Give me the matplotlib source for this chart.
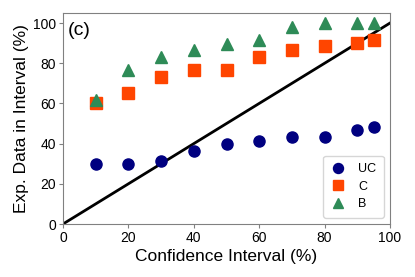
import numpy as np
import matplotlib.pyplot as plt

plt.rcParams['font.family'] = ['Liberation Sans', 'DejaVu Sans']

# Confidence interval levels (%)
ci = [10, 20, 30, 40, 50, 60, 70, 80, 90, 95]

# Exp. data falling inside the interval (%)
uc = [30, 30, 31.5, 36.5, 39.8, 41.5, 43.2, 43.2, 46.6, 48.2]
c = [60, 65, 73.2, 76.6, 76.6, 83.2, 86.8, 88.4, 90.1, 91.8]
b = [61.5, 76.8, 83.1, 86.4, 89.8, 91.4, 98, 100, 100, 100]

fig = plt.figure(figsize=(4.15, 2.77), dpi=100)
ax = fig.add_axes([63 / 415, 53 / 277, 327 / 415, 211 / 277])

ax.plot([0, 100], [0, 100], color='black', lw=2, zorder=1)
ax.plot(ci, uc, 'o', color='#000080', ms=8, label='UC', zorder=2)
ax.plot(ci, c, 's', color='#FF4500', ms=8, label='C', zorder=2)
ax.plot(ci, b, '^', color='#2E8B57', ms=8, label='B', zorder=3)

ax.set_xlim(0, 100)
ax.set_ylim(0, 105)
ax.set_xticks([0, 20, 40, 60, 80, 100])
ax.set_yticks([0, 20, 40, 60, 80, 100])
ax.tick_params(labelsize=10, color='gray', length=3, width=0.8, pad=2)
for s in ax.spines.values():
    s.set_color('gray')

ax.set_xlabel('Confidence Interval (%)', fontsize=12.5, labelpad=3)
ax.set_ylabel('Exp. Data in Interval (%)', fontsize=12.5, labelpad=3)
ax.text(0.015, 0.955, '(c)', transform=ax.transAxes, fontsize=14, va='top', ha='left')

ax.legend(loc='lower right', fontsize=9, handlelength=1.2, handletextpad=1.0,
          labelspacing=0.45, borderpad=0.6, markerscale=0.9)

fig.savefig('out.png', dpi=100)
